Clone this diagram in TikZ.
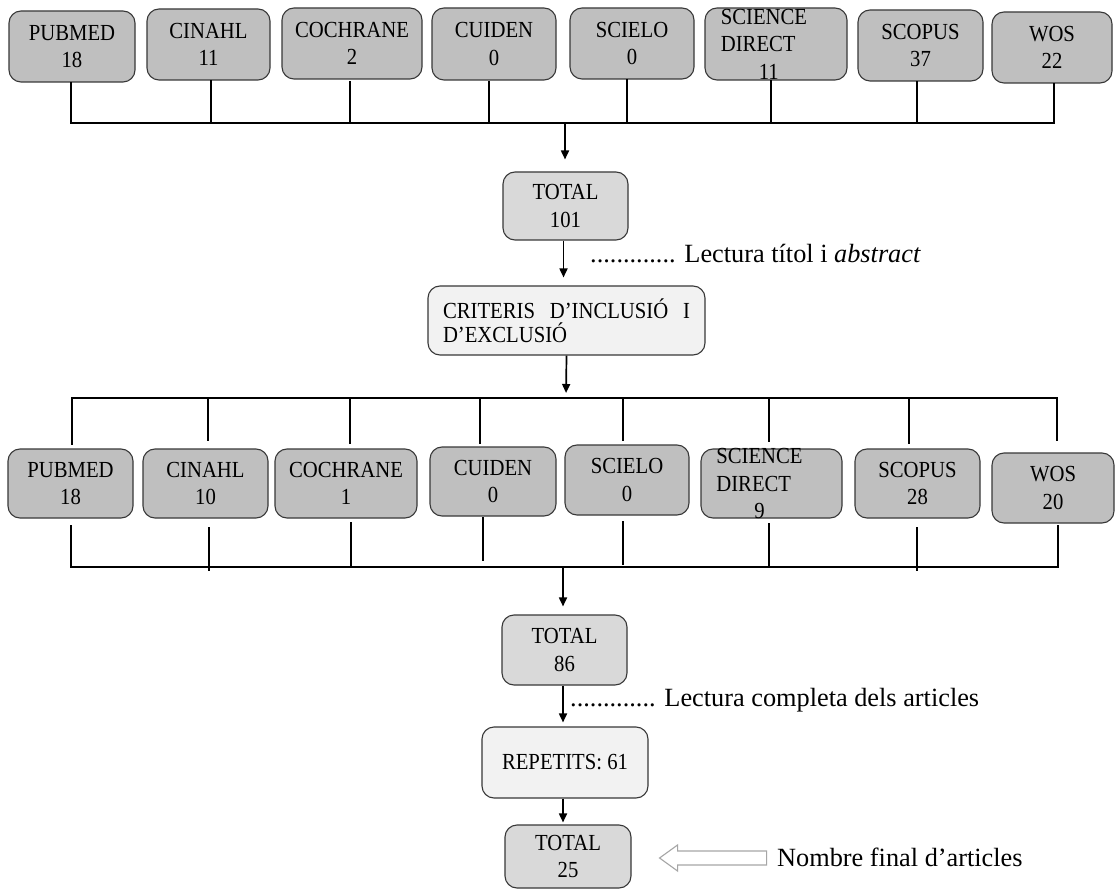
\documentclass[tikz,border=0pt]{standalone}
\usepackage{fontspec}
\setmainfont{Liberation Serif}
\newfontfamily\tnr{Liberation Serif}
\newfontfamily\tnrc[FakeStretch=0.9]{Liberation Serif}
\usetikzlibrary{arrows.meta,calc}
\begin{document}
\begin{tikzpicture}[x=1pt,y=-1pt,
  box/.style={draw=black!78, line width=1.1pt, rounded corners=12pt, inner sep=0pt, align=center, font=\tnrc\fontsize{23}{27.5}\selectfont},
  db/.style={box, fill=black!25},
  tot/.style={box, fill=black!15},
  lite/.style={box, fill=black!5},
  txt/.style={inner sep=0pt, align=left, font=\tnrc\fontsize{23}{27.5}\selectfont},
  conn/.style={line width=1.7pt, black, line cap=rect},
  arr/.style={line width=1.7pt, black, -{Triangle[length=9pt,width=8pt]}},
  lab/.style={font=\tnr\fontsize{26.3}{31}\selectfont, inner sep=0pt, anchor=base west},
  hollow/.style={draw=black!35, line width=1.1pt, fill=white, line join=miter},
]
\fill[white] (0,0) rectangle (1116,890);
\useasboundingbox (0,0) rectangle (1116,890);

% ---------- row 1 ----------
\node[db, minimum width=126, minimum height=71] (b1) at (72,46.5) {PUBMED\\18};
\node[db, minimum width=123, minimum height=71] (b2) at (208.5,44.5) {CINAHL\\11};
\node[db, minimum width=140, minimum height=71] (b3) at (352,43.5) {COCHRANE\\2};
\node[db, minimum width=124, minimum height=72] (b4) at (494,44) {CUIDEN\\0};
\node[db, minimum width=124, minimum height=71] (b5) at (632,43.5) {SCIELO\\0};
\node[db, minimum width=142, minimum height=72] (b6) at (776,44) {};
\node[txt] (b6t) at ([xshift=-12pt]b6.center) {SCIENCE\\DIRECT\\\hspace*{38pt}11};
\node[db, minimum width=125, minimum height=71] (b7) at (920.5,45.5) {SCOPUS\\37};
\node[db, minimum width=120, minimum height=71] (b8) at (1052,47.5) {WOS\\22};

\coordinate (bus1) at (565,123);
\draw[conn] ([xshift=-1pt]b1.south) -- ([xshift=-1pt]b1.south |- bus1) -- ([xshift=2pt]b8.south |- bus1) -- ([xshift=2pt]b8.south);
\draw[conn] ([xshift=2.5pt]b2.south) -- ([xshift=2.5pt]b2.south |- bus1);
\draw[conn] ([xshift=-2pt,yshift=-2pt]b3.south) -- ([xshift=-2pt]b3.south |- bus1);
\draw[conn] ([xshift=-5pt,yshift=-1pt]b4.south) -- ([xshift=-5pt]b4.south |- bus1);
\draw[conn] ([xshift=-5pt]b5.south) -- ([xshift=-5pt]b5.south |- bus1);
\draw[conn] ([xshift=-5pt]b6.south) -- ([xshift=-5pt]b6.south |- bus1);
\draw[conn] ([xshift=-3.5pt]b7.south) -- ([xshift=-3.5pt]b7.south |- bus1);

% ---------- central column 1 ----------
\node[tot, minimum width=125, minimum height=68] (t1) at (565.5,206) {TOTAL\\101};
\node[lite, minimum width=277, minimum height=69, align=left] (cr) at (566.5,320.5)
  {\makebox[247pt][s]{CRITERIS D’INCLUSIÓ I}\\[-4pt]\makebox[247pt][l]{D’EXCLUSIÓ}};
\draw[arr, shorten >=12pt] (bus1) -- (bus1 |- t1.north);
\draw[arr, shorten >=8pt] ([xshift=-2pt]t1.south) -- ([xshift=-2pt]t1.south |- cr.north);
\coordinate (bus2) at (566,398);
\draw[arr, shorten >=5pt] (cr.south) -- (bus2);

\node[lab] (l1) at (590,263) {............. Lectura títol i \textit{abstract}};

% ---------- row 2 ----------
\node[db, minimum width=125, minimum height=69] (c1) at (70.5,483.5) {PUBMED\\18};
\node[db, minimum width=125, minimum height=69] (c2) at (205.5,483.5) {CINAHL\\10};
\node[db, minimum width=142, minimum height=69] (c3) at (346,483.5) {COCHRANE\\1};
\node[db, minimum width=126, minimum height=69] (c4) at (493,481.5) {CUIDEN\\0};
\node[db, minimum width=124, minimum height=70] (c5) at (627,480) {SCIELO\\0};
\node[db, minimum width=141, minimum height=69] (c6) at (771.5,483.5) {};
\node[txt] (c6t) at ([xshift=-12pt]c6.center) {SCIENCE\\DIRECT\\\hspace*{38pt}9};
\node[db, minimum width=125, minimum height=69] (c7) at (917.5,483.5) {SCOPUS\\28};
\node[db, minimum width=122, minimum height=70] (c8) at (1053,488) {WOS\\20};

% connectors above row 2
\draw[conn] ([xshift=1.5pt,yshift=4pt]c1.north) -- ([xshift=1.5pt]c1.north |- bus2) -- ([xshift=4pt]c8.north |- bus2) -- ([xshift=4pt,yshift=12pt]c8.north);
\draw[conn] ([xshift=2.5pt]c2.north |- bus2) -- ([xshift=2.5pt,yshift=8pt]c2.north);
\draw[conn] ([xshift=4pt]c3.north |- bus2) -- ([xshift=4pt,yshift=5pt]c3.north);
\draw[conn] ([xshift=-13pt]c4.north |- bus2) -- ([xshift=-13pt,yshift=3pt]c4.north);
\draw[conn] ([xshift=-4pt]c5.north |- bus2) -- ([xshift=-4pt,yshift=4pt]c5.north);
\draw[conn] ([xshift=-2.5pt]c6.north |- bus2) -- ([xshift=-2.5pt,yshift=7pt]c6.north);
\draw[conn] ([xshift=-8.5pt]c7.north |- bus2) -- ([xshift=-8.5pt,yshift=5pt]c7.north);

% connectors below row 2
\coordinate (bus3) at (563,567);
\draw[conn] ([xshift=0.5pt,yshift=-7pt]c1.south) -- ([xshift=0.5pt]c1.south |- bus3) -- ([xshift=5pt]c8.south |- bus3) -- ([xshift=5pt,yshift=-2pt]c8.south);
\draw[conn] ([xshift=3.5pt,yshift=-9pt]c2.south) -- ([xshift=3.5pt,yshift=-3pt]c2.south |- bus3);
\draw[conn] ([xshift=5pt,yshift=-4pt]c3.south) -- ([xshift=5pt]c3.south |- bus3);
\draw[conn] ([xshift=-10pt,yshift=-1pt]c4.south) -- ([xshift=-10pt,yshift=7pt]c4.south |- bus3);
\draw[conn] ([xshift=-4pt,yshift=-6pt]c5.south) -- ([xshift=-4pt,yshift=3pt]c5.south |- bus3);
\draw[conn] ([xshift=-2.5pt,yshift=-5pt]c6.south) -- ([xshift=-2.5pt]c6.south |- bus3);
\draw[conn] ([xshift=-0.5pt,yshift=-9pt]c7.south) -- ([xshift=-0.5pt,yshift=-3pt]c7.south |- bus3);

% ---------- central column 2 ----------
\node[tot, minimum width=125, minimum height=70] (t2) at (564.5,650) {TOTAL\\86};
\node[lite, minimum width=166, minimum height=71] (rp) at (565,762.5) {REPETITS: 61};
\node[tot, minimum width=126, minimum height=63] (t3) at (568,856.5) {TOTAL\\25};

\draw[arr, shorten >=8pt] (bus3) -- (bus3 |- t2.north);
\draw[arr, shorten >=4pt] ([xshift=-1.5pt]t2.south) -- ([xshift=-1.5pt]t2.south |- rp.north);
\draw[arr, shorten >=2pt] ([xshift=-2pt]rp.south) -- ([xshift=-2pt]rp.south |- t3.north);

\node[lab] (l2) at (570,706) {............. Lectura completa dels articles};
\node[lab] (l3) at (777,866) {Nombre final d’articles};

% hollow arrow
\coordinate (ha) at ([xshift=28pt,yshift=-1.5pt]t3.east);
\draw[hollow] (ha) -- ++(18,-13) -- ++(0,6) -- ++(89,0) -- ++(0,14) -- ++(-89,0) -- ++(0,6) -- cycle;
\end{tikzpicture}
\end{document}
